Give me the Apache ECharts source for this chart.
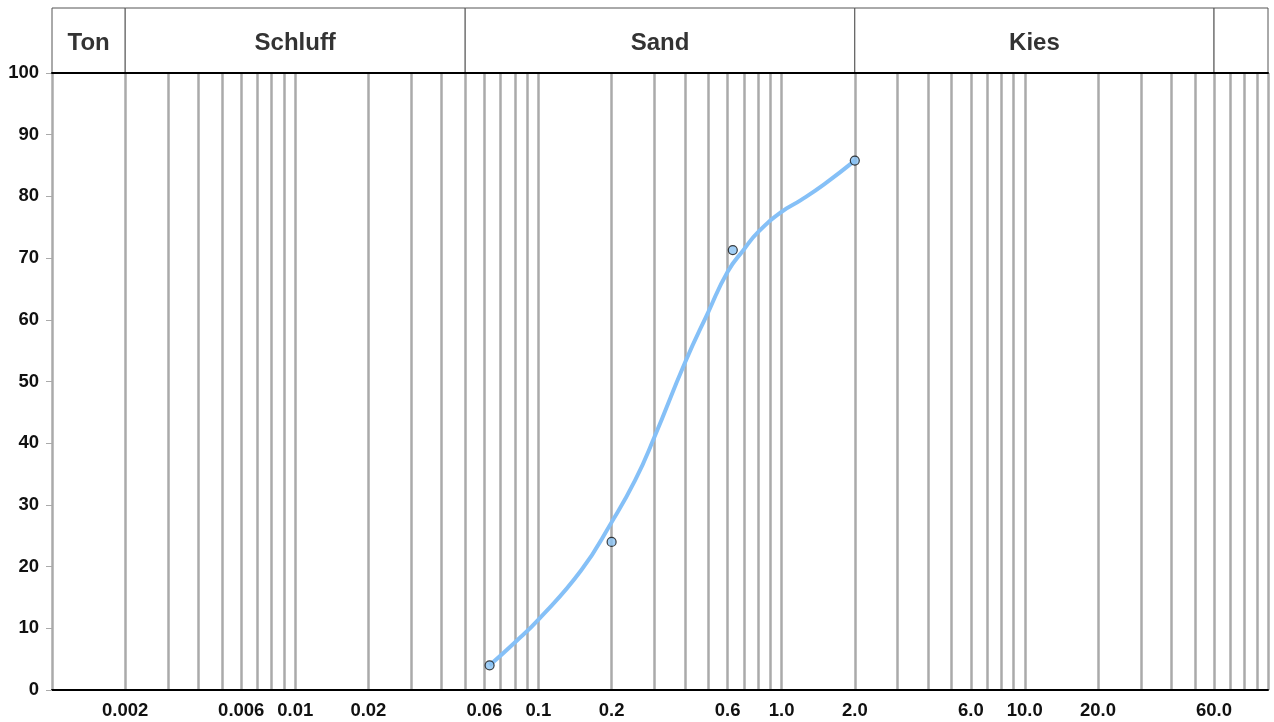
<!DOCTYPE html>
<html>
<head>
<meta charset="utf-8">
<script src="https://cdn.jsdelivr.net/npm/echarts@6/dist/echarts.min.js"></script>
<style>
  html, body { margin: 0; padding: 0; background: #fff; }
  #main { width: 1274px; height: 722px; }
</style>
</head>
<body>
<div id="main"></div>
<script>
// Korngrößen (mm) und Siebdurchgang (%)
var sieveSizes = [0.063, 0.2, 0.63, 2.0];
var passing = [4, 24, 71.3, 85.8];

// Ausgleichskurve
var curveSizes = [0.063, 0.08, 0.1, 0.15, 0.2, 0.25, 0.3, 0.4, 0.5, 0.6, 0.7, 0.8, 1.0, 1.2, 1.5, 2.0];
var curvePassing = [4, 7.7, 11.4, 19.4, 27.2, 34, 41, 53, 61.3, 67.8, 71.4, 74.2, 77.5, 79.4, 82, 85.8];

// Kornfraktionen oben
var bandBounds = [0.001, 0.002, 0.05, 2, 60, 100];
var bandNames = ['Ton', 'Schluff', 'Sand', 'Kies', ''];

// senkrechte Gitterlinien
var gridValues = [
  0.001, 0.002, 0.003, 0.004, 0.005, 0.006, 0.007, 0.008, 0.009,
  0.01, 0.02, 0.03, 0.04, 0.05, 0.06, 0.07, 0.08, 0.09,
  0.1, 0.2, 0.3, 0.4, 0.5, 0.6, 0.7, 0.8, 0.9,
  1, 2, 3, 4, 5, 6, 7, 8, 9,
  10, 20, 30, 40, 50, 60, 70, 80, 90, 100
];
var labelValues = [0.002, 0.006, 0.01, 0.02, 0.06, 0.1, 0.2, 0.6, 1, 2, 6, 10, 20, 60];
var labelTexts = ['0.002', '0.006', '0.01', '0.02', '0.06', '0.1', '0.2', '0.6', '1.0', '2.0', '6.0', '10.0', '20.0', '60.0'];

var lg = function (v) { return Math.log10(v); };

var bandData = bandNames.map(function (name, i) {
  return [lg(bandBounds[i]), lg(bandBounds[i + 1])];
});

var chart = echarts.init(document.getElementById('main'));

var option = {
  animation: false,
  backgroundColor: '#fff',
  textStyle: { fontFamily: '"Liberation Sans", Arial, sans-serif' },
  grid: [
    { left: 52, right: 6, top: 73, bottom: 32 },
    { left: 52, right: 6, top: 8, height: 65 }
  ],
  xAxis: [
    {
      type: 'value',
      gridIndex: 0,
      min: -3,
      max: 2,
      axisLine: { onZero: false, lineStyle: { color: '#000', width: 2 } },
      axisTick: { show: false, customValues: gridValues.map(lg) },
      splitLine: { show: true, lineStyle: { color: '#aaa', width: 2.5 } },
      axisLabel: {
        customValues: labelValues.map(lg),
        margin: 11,
        color: '#111',
        fontSize: 18.5,
        fontWeight: 'bold',
        formatter: function (v) {
          for (var i = 0; i < labelValues.length; i++) {
            if (Math.abs(lg(labelValues[i]) - v) < 1e-6) return labelTexts[i];
          }
          return '';
        }
      }
    },
    {
      type: 'value',
      gridIndex: 1,
      min: -3,
      max: 2,
      z: 10,
      axisLine: { onZero: false, lineStyle: { color: '#000', width: 2 } },
      axisTick: { show: false },
      axisLabel: { show: false },
      splitLine: { show: false }
    }
  ],
  yAxis: [
    {
      type: 'value',
      gridIndex: 0,
      min: 0,
      max: 100,
      interval: 10,
      axisLine: { show: false, onZero: false },
      axisTick: { show: true, length: 6, lineStyle: { color: '#aaa', width: 1 } },
      splitLine: { show: false },
      axisLabel: { margin: 13, color: '#111', fontSize: 18.5, fontWeight: 'bold' }
    },
    {
      type: 'value',
      gridIndex: 1,
      min: 0,
      max: 1,
      show: false
    }
  ],
  series: [
    {
      type: 'custom',
      xAxisIndex: 1,
      yAxisIndex: 1,
      z: 2,
      data: bandData,
      renderItem: function (params, api) {
        var p0 = api.coord([api.value(0), 1]);
        var p1 = api.coord([api.value(1), 0]);
        return {
          type: 'group',
          children: [
            {
              type: 'rect',
              shape: { x: p0[0], y: p0[1], width: p1[0] - p0[0], height: p1[1] - p0[1] },
              style: { fill: '#fff', stroke: '#555', lineWidth: 1 }
            },
            {
              type: 'text',
              x: (p0[0] + p1[0]) / 2,
              y: (p0[1] + p1[1]) / 2 + 2.5,
              style: {
                text: bandNames[params.dataIndex],
                fill: '#333',
                font: 'bold 24px "Liberation Sans", Arial, sans-serif',
                align: 'center',
                verticalAlign: 'middle'
              }
            }
          ]
        };
      }
    },
    {
      type: 'line',
      smooth: true,
      symbol: 'none',
      z: 3,
      lineStyle: { color: '#85c0f7', width: 4 },
      data: curveSizes.map(function (d, i) { return [lg(d), curvePassing[i]]; })
    },
    {
      type: 'scatter',
      z: 4,
      symbolSize: 9,
      itemStyle: { color: '#8ac2f2', borderColor: '#111', borderWidth: 1.2 },
      data: sieveSizes.map(function (d, i) { return [lg(d), passing[i]]; })
    }
  ]
};

chart.setOption(option);
</script>
</body>
</html>
